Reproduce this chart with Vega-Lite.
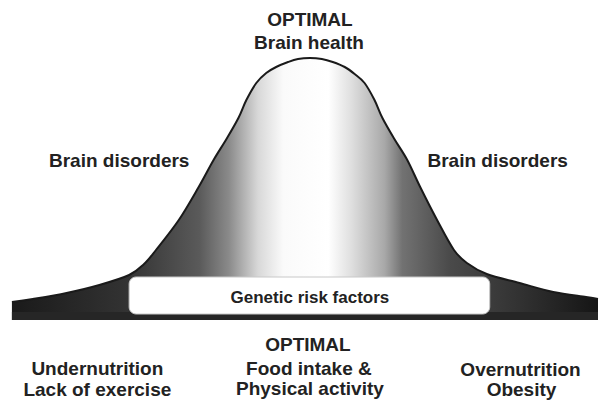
{
  "$schema": "https://vega.github.io/schema/vega-lite/v6.json",
  "width": 602,
  "height": 401,
  "padding": 0,
  "autosize": {"type": "fit", "contains": "padding"},
  "background": "white",
  "config": {"view": {"stroke": null}},
  "datasets": {
    "curve": [
      {"x": 12, "v": 18}, {"x": 33, "v": 21}, {"x": 67, "v": 27}, {"x": 100, "v": 35},
      {"x": 130, "v": 45}, {"x": 145, "v": 56}, {"x": 157, "v": 70}, {"x": 180, "v": 100},
      {"x": 200, "v": 133}, {"x": 215, "v": 160}, {"x": 228, "v": 181}, {"x": 240, "v": 202},
      {"x": 248, "v": 220}, {"x": 258, "v": 237}, {"x": 268, "v": 247}, {"x": 278, "v": 253},
      {"x": 290, "v": 258}, {"x": 300, "v": 261}, {"x": 312, "v": 262}, {"x": 324, "v": 261},
      {"x": 335, "v": 258}, {"x": 347, "v": 253}, {"x": 357, "v": 246}, {"x": 367, "v": 237},
      {"x": 377, "v": 220}, {"x": 385, "v": 202}, {"x": 397, "v": 181}, {"x": 410, "v": 160},
      {"x": 423, "v": 133}, {"x": 440, "v": 100}, {"x": 457, "v": 70}, {"x": 470, "v": 57},
      {"x": 490, "v": 46}, {"x": 523, "v": 37}, {"x": 557, "v": 28}, {"x": 590, "v": 23},
      {"x": 602, "v": 21}
    ],
    "strip": [{"x1": 12, "x2": 602, "v1": 0, "v2": 8}],
    "box": [{"x1": 130, "x2": 493, "v1": 6, "v2": 43}],
    "labels": [
      {"x": 312, "v": 294, "t": "OPTIMAL"},
      {"x": 311, "v": 271, "t": "Brain health"},
      {"x": 120, "v": 153, "t": "Brain disorders"},
      {"x": 501, "v": 153, "t": "Brain disorders"},
      {"x": 310, "v": -31, "t": "OPTIMAL"},
      {"x": 311, "v": -55, "t": "Food intake &"},
      {"x": 312, "v": -75, "t": "Physical activity"},
      {"x": 98, "v": -55, "t": "Undernutrition"},
      {"x": 98, "v": -76, "t": "Lack of exercise"},
      {"x": 524, "v": -56, "t": "Overnutrition"},
      {"x": 525, "v": -76, "t": "Obesity"}
    ],
    "boxlabel": [{"x": 312, "v": 17, "t": "Genetic risk factors"}]
  },
  "layer": [
    {
      "data": {"name": "curve"},
      "mark": {
        "type": "area",
        "interpolate": "cardinal",
        "fill": {
          "gradient": "linear",
          "x1": 0, "x2": 1, "y1": 0, "y2": 0,
          "stops": [
            {"offset": 0, "color": "#1a1a1a"},
            {"offset": 0.2, "color": "#333333"},
            {"offset": 0.32, "color": "#5a5a5a"},
            {"offset": 0.37, "color": "#8a8a8a"},
            {"offset": 0.42, "color": "#d8d8d8"},
            {"offset": 0.463, "color": "#fafafa"},
            {"offset": 0.54, "color": "#ffffff"},
            {"offset": 0.578, "color": "#e0e0e0"},
            {"offset": 0.636, "color": "#a8a8a8"},
            {"offset": 0.666, "color": "#727272"},
            {"offset": 0.747, "color": "#4a4a4a"},
            {"offset": 0.86, "color": "#333333"},
            {"offset": 1, "color": "#151515"}
          ]
        }
      },
      "encoding": {
        "x": {"field": "x", "type": "quantitative", "scale": {"domain": [0, 602], "nice": false, "zero": false}, "axis": null},
        "y": {"field": "v", "type": "quantitative", "scale": {"domain": [-81, 320], "nice": false, "zero": false}, "axis": null},
        "y2": {"datum": 0}
      }
    },
    {
      "data": {"name": "strip"},
      "mark": {"type": "rect", "color": "#262626"},
      "encoding": {
        "x": {"field": "x1", "type": "quantitative"},
        "x2": {"field": "x2"},
        "y": {"field": "v1", "type": "quantitative"},
        "y2": {"field": "v2"}
      }
    },
    {
      "data": {"name": "curve"},
      "mark": {"type": "line", "interpolate": "cardinal", "stroke": "#1a1a1a", "strokeWidth": 2},
      "encoding": {
        "x": {"field": "x", "type": "quantitative"},
        "y": {"field": "v", "type": "quantitative"}
      }
    },
    {
      "data": {"name": "box"},
      "mark": {"type": "rect", "fill": "#ffffff", "stroke": "#c8c8c8", "strokeWidth": 1, "cornerRadius": 7},
      "encoding": {
        "x": {"field": "x1", "type": "quantitative"},
        "x2": {"field": "x2"},
        "y": {"field": "v1", "type": "quantitative"},
        "y2": {"field": "v2"}
      }
    },
    {
      "data": {"name": "labels"},
      "mark": {"type": "text", "align": "center", "baseline": "alphabetic", "font": "Liberation Sans", "fontWeight": "bold", "fontSize": 19, "color": "#222222"},
      "encoding": {
        "x": {"field": "x", "type": "quantitative"},
        "y": {"field": "v", "type": "quantitative"},
        "text": {"field": "t"}
      }
    },
    {
      "data": {"name": "boxlabel"},
      "mark": {"type": "text", "align": "center", "baseline": "alphabetic", "font": "Liberation Sans", "fontWeight": "bold", "fontSize": 17, "color": "#222222"},
      "encoding": {
        "x": {"field": "x", "type": "quantitative"},
        "y": {"field": "v", "type": "quantitative"},
        "text": {"field": "t"}
      }
    }
  ]
}
